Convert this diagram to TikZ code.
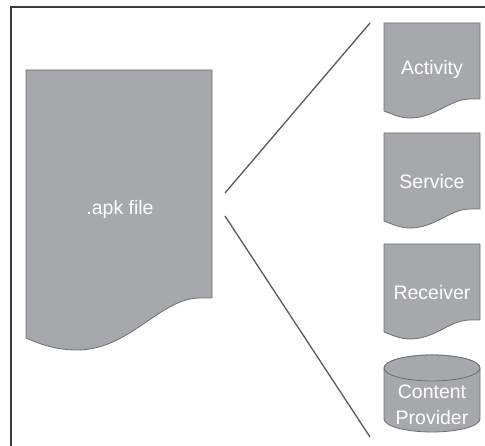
\documentclass[tikz,border=0pt]{standalone}
\usepackage{fontspec}
\setmainfont{Liberation Sans}
\definecolor{docfill}{HTML}{A7A8AB}
\definecolor{docline}{HTML}{6D6E71}
\definecolor{conline}{HTML}{58595B}
\definecolor{framecol}{HTML}{3A3A3C}
\begin{document}
\begin{tikzpicture}[x=1pt,y=-1pt,
  docshape/.style={fill=docfill,draw=docline,line width=0.8pt,line join=round},
  lbl/.style={text=white,font=\fontsize{19.5}{23}\selectfont,align=center,inner sep=0pt},
  conn/.style={draw=conline,line width=1.3pt},
  framestyle/.style={draw=framecol,line width=1.5pt}]
\useasboundingbox (0,0) rectangle (485,446);
% frame
\draw[framestyle] (11,446) -- (11,7) -- (485,7);
% apk document
\path[docshape] (26,70) -- (212,70) -- (212,298) -- (200,298)
  .. controls (160,298) and (130,350) .. (77,350)
  .. controls (55,350) and (40,344) .. (26,338) -- cycle;
\node[lbl] (apk) at (120,209) {.apk file};
% small documents
\foreach \t/\name/\txt/\ty in {23/activity/Activity/69,133/service/Service/182,244/receiver/Receiver/293}{
  \path[docshape] (384,\t) -- (480,\t) -- (480,\t+76) -- (470,\t+76)
    .. controls (450,\t+76) and (435,\t+95) .. (410,\t+95)
    .. controls (400,\t+95) and (392,\t+91) .. (384,\t+88) -- cycle;
  \node[lbl] (\name) at (432,\ty) {\txt};
}
% cylinder
\path[docshape] (384,368) -- (384,419) arc[start angle=180,end angle=360,x radius=48,y radius=-13]
  -- (480,368) arc[start angle=0,end angle=180,x radius=48,y radius=-13] -- cycle;
\draw[docshape] (432,368) ellipse[x radius=48,y radius=13];
\node[lbl] (provider) at (432,405) {Content\\[3pt]Provider};
% connectors
\coordinate (upA) at (225,193);
\coordinate (upB) at (370,23);
\coordinate (loA) at (225,216);
\coordinate (loB) at (370,437);
\draw[conn] (upA) -- (upB);
\draw[conn] (loA) -- (loB);
\end{tikzpicture}
\end{document}
